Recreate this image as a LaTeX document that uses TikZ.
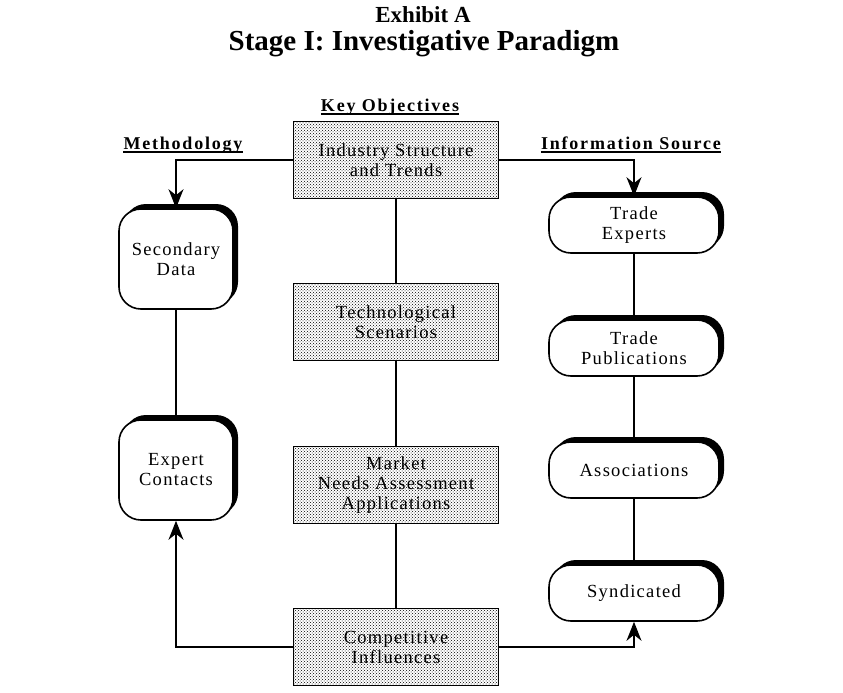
\documentclass[tikz,border=0pt]{standalone}
\usepackage{fontspec}
\setmainfont{Liberation Serif}
\newfontfamily\boxfont{Liberation Serif}[LetterSpace=7]
\newfontfamily\headfont{Liberation Serif}[LetterSpace=10]
\usetikzlibrary{arrows.meta,patterns,shadows}
\begin{document}
\begin{tikzpicture}[x=1pt,y=-1pt,
  cbox/.style={draw, line width=1.6pt, pattern=crosshatch dots, pattern color=black,
    minimum width=205pt, minimum height=77pt, inner sep=0pt, align=center,
    font=\boxfont\fontsize{18.5pt}{20pt}\selectfont},
  rbox/.style={draw, line width=1.6pt, fill=white, rounded corners=22pt, inner sep=0pt,
    align=center, font=\boxfont\fontsize{18.5pt}{20pt}\selectfont,
    general shadow={fill=black, shadow xshift=5pt, shadow yshift=5pt}},
  lbox/.style={rbox, minimum width=114pt, minimum height=100pt},
  pbox/.style={rbox, minimum width=170pt, minimum height=56pt},
  head/.style={font=\headfont\bfseries\fontsize{18pt}{20pt}\selectfont, inner sep=0pt, anchor=base},
  conn/.style={line width=1.6pt},
  arr/.style={conn, -{Stealth[length=19pt,width=15pt,inset=6pt]}}]
\useasboundingbox (0,0) rectangle (843,693);
\fill[white] (0,0) rectangle (843,693);
% titles
\node[font=\bfseries\fontsize{23pt}{26pt}\selectfont] (t1) at (423,15) {Exhibit A};
\node[font=\bfseries\fontsize{29pt}{32pt}\selectfont] (t2) at (424,44) {Stage I: Investigative Paradigm};
% headers
\node[head] (hk) at (390,111) {Key Objectives};
\node[head] (hm) at (183,149) {Methodology};
\node[head] (hi) at (631,149) {Information Source};
\foreach \h in {hk,hm,hi}{
  \draw[line width=1.4pt] ([yshift=-3pt]\h.base west) -- ([yshift=-3pt]\h.base east);
}
% center boxes
\node[cbox] (b1) at (396,160) {Industry Structure\\and Trends};
\node[cbox] (b2) at (396,322) {Technological\\Scenarios};
\node[cbox] (b3) at (396,485) {Market\\Needs Assessment\\Applications};
\node[cbox] (b4) at (396,647) {Competitive\\Influences};
% left boxes
\node[lbox] (sd) at (176,259) {Secondary\\Data};
\node[lbox] (ec) at (176,470) {Expert\\Contacts};
% right boxes
\node[pbox] (te) at (634,225) {Trade\\Experts};
\node[pbox] (tp) at (634,348) {Trade\\Publications};
\node[pbox] (as) at (634,470) {Associations};
\node[pbox] (sy) at (634,593) {Syndicated};
% connectors
\draw[conn] (b1) -- (b2);
\draw[conn] (b2) -- (b3);
\draw[conn] (b3) -- (b4);
\draw[conn] (sd) -- (ec);
\draw[conn] (te.south) -- (tp.north);
\draw[conn] (tp.south) -- (as.north);
\draw[conn] (as.south) -- (sy.north);
\draw[arr] (b1.west) -| (sd.north);
\draw[arr] (b1.east) -| (te.north);
\draw[arr] (b4.west) -| (ec.south);
\draw[arr] (b4.east) -| (sy.south);
\end{tikzpicture}
\end{document}
